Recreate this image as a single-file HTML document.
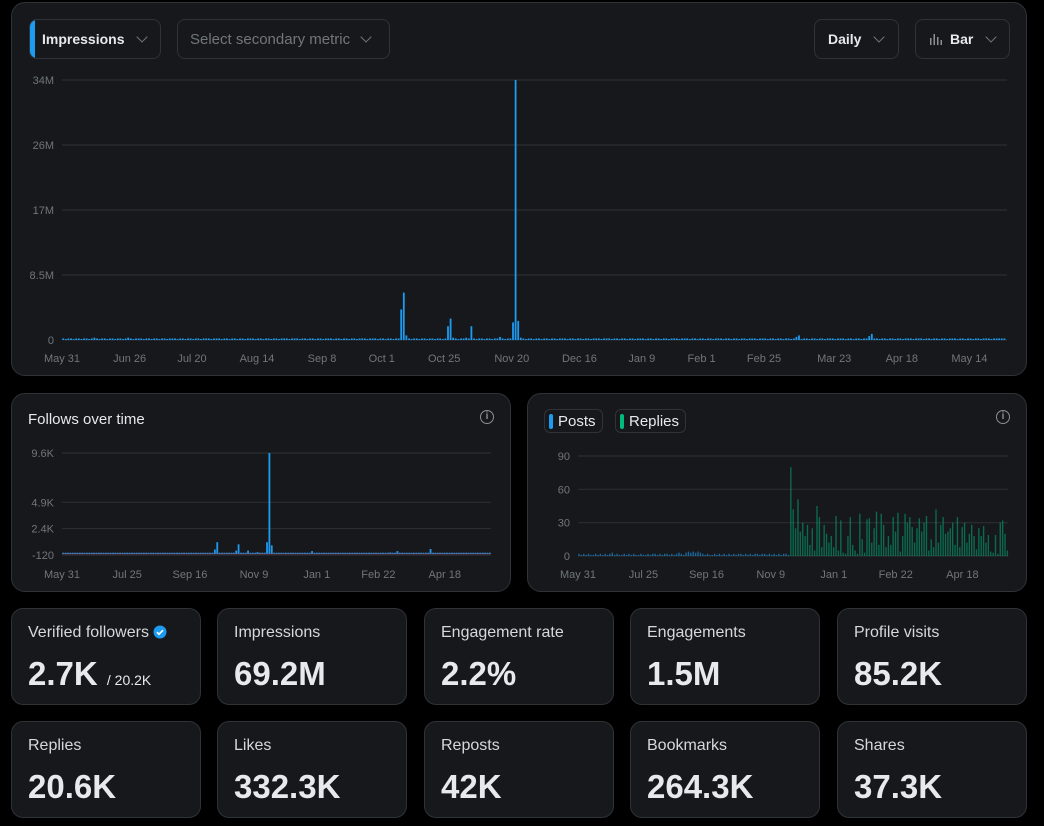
<!DOCTYPE html>
<html><head><meta charset="utf-8">
<style>
*{box-sizing:border-box;margin:0;padding:0}
body{width:1044px;height:826px;background:#000;font-family:"Liberation Sans",sans-serif;position:relative;overflow:hidden;color:#e7e9ea}
.card{position:absolute;background:#16181c;border:1px solid #2f3336;border-radius:14px}
.btn{position:absolute;border:1px solid #2f3336;border-radius:8px;height:40px;display:flex;align-items:center;font-size:14px;font-weight:bold;color:#e7e9ea}
.chev{display:inline-block;width:8px;height:8px;border-right:1.5px solid #71767b;border-bottom:1.5px solid #71767b;transform:rotate(45deg);margin-top:-5px}
.stat{position:absolute;width:190px;height:97px;background:#16181c;border:1px solid #2f3336;border-radius:12px}
.stat .lab{position:absolute;left:16px;top:15px;font-size:16px;color:#d6d9db}
.stat .val{position:absolute;left:16px;top:46px;font-size:33px;font-weight:bold;color:#e7e9ea}
.info{position:absolute;width:14px;height:14px;border:1.5px solid #8b9096;border-radius:50%;font-size:10px;color:#8b9096;text-align:center;line-height:11px;font-weight:bold}
.leg{position:absolute;height:24px;border:1px solid #2f3336;border-radius:6px;font-size:15px;color:#e7e9ea;display:flex;align-items:center;padding:0 6px 0 4px}
.leg i{display:inline-block;width:4px;height:15px;border-radius:2px;margin-right:5px}
svg text{font-family:"Liberation Sans",sans-serif;font-size:11px;fill:#71767b}
</style></head><body>
<div class="card" style="left:11px;top:2px;width:1016px;height:374px"></div>
<div class="btn" style="left:29px;top:19px;width:132px;overflow:hidden;padding-left:12px"><span style="position:absolute;left:0;top:0;width:5px;height:40px;background:#1d9bf0"></span>Impressions<span class="chev" style="margin-left:14px"></span></div>
<div class="btn" style="left:177px;top:19px;width:213px;padding-left:12px;color:#71767b;font-weight:normal;font-size:15px">Select secondary metric<span class="chev" style="margin-left:12px"></span></div>
<div class="btn" style="left:814px;top:19px;width:85px;padding-left:13px">Daily<span class="chev" style="margin-left:14px"></span></div>
<div class="btn" style="left:915px;top:19px;width:95px;padding-left:14px"><svg width="12" height="12" style="margin-right:8px"><rect x="0" y="5" width="1.5" height="7" fill="#8b9096"/><rect x="3.5" y="1" width="1.5" height="11" fill="#8b9096"/><rect x="7" y="4" width="1.5" height="8" fill="#8b9096"/><rect x="10.5" y="7" width="1.5" height="5" fill="#8b9096"/></svg>Bar<span class="chev" style="margin-left:14px"></span></div>

<div class="card" style="left:11px;top:393px;width:500px;height:199px"></div>
<div style="position:absolute;left:28px;top:411px;font-size:15px;color:#e7e9ea">Follows over time</div>
<div class="info" style="left:480px;top:410px">i</div>

<div class="card" style="left:527px;top:393px;width:500px;height:199px"></div>
<div class="leg" style="left:544px;top:409px"><i style="background:#1d9bf0"></i>Posts</div>
<div class="leg" style="left:615px;top:409px"><i style="background:#00ba7c"></i>Replies</div>
<div class="info" style="left:996px;top:410px">i</div>

<svg id="charts" width="1044" height="826" style="position:absolute;left:0;top:0"></svg>

<div class="stat" style="left:11px;top:608px"><div class="lab">Verified followers <svg width="14" height="14" style="vertical-align:-2px"><circle cx="7" cy="7" r="6.5" fill="#1d9bf0"/><path d="M4 7.2l2 2 4-4" stroke="#fff" stroke-width="1.6" fill="none"/></svg></div><div class="val">2.7K <span style="font-size:14px;font-weight:normal">/ 20.2K</span></div></div>
<div class="stat" style="left:217px;top:608px"><div class="lab">Impressions</div><div class="val">69.2M</div></div>
<div class="stat" style="left:424px;top:608px"><div class="lab">Engagement rate</div><div class="val">2.2%</div></div>
<div class="stat" style="left:630px;top:608px"><div class="lab">Engagements</div><div class="val">1.5M</div></div>
<div class="stat" style="left:837px;top:608px"><div class="lab">Profile visits</div><div class="val">85.2K</div></div>
<div class="stat" style="left:11px;top:721px"><div class="lab">Replies</div><div class="val">20.6K</div></div>
<div class="stat" style="left:217px;top:721px"><div class="lab">Likes</div><div class="val">332.3K</div></div>
<div class="stat" style="left:424px;top:721px"><div class="lab">Reposts</div><div class="val">42K</div></div>
<div class="stat" style="left:630px;top:721px"><div class="lab">Bookmarks</div><div class="val">264.3K</div></div>
<div class="stat" style="left:837px;top:721px"><div class="lab">Shares</div><div class="val">37.3K</div></div>

<script>
// ---- Impressions (millions, daily from May 31) ----
const impressions = [
.2,.1,.2,.2,.1,.2,.2,.1,.2,.2,.1,.2,.3,.2,.1,.2,.2,.1,.2,.2,.1,.2,.2,.1,.2,.3,.2,.1,.2,.2,
.2,.1,.2,.2,.1,.2,.2,.1,.2,.2,.1,.2,.2,.2,.1,.2,.2,.1,.2,.2,.1,.2,.2,.1,.2,.2,.2,.1,.2,.2,
.2,.1,.2,.2,.1,.2,.2,.1,.2,.2,.1,.2,.2,.2,.1,.2,.2,.1,.2,.2,.1,.2,.2,.1,.2,.2,.2,.1,.2,.2,
.2,.1,.2,.2,.1,.2,.2,.1,.2,.2,.1,.2,.2,.2,.1,.2,.2,.1,.2,.2,.1,.2,.2,.1,.2,.2,.2,.1,.2,.2,
.2,.1,.2,.2,.1,.2,.2,.1,.2,.2,4.0,6.2,.6,.2,.1,.2,.2,.1,.2,.2,.1,.2,.2,.1,.2,.2,.1,.2,1.8,2.8,
.3,.2,.1,.2,.2,.3,.2,1.8,.2,.1,.2,.2,.1,.2,.2,.1,.2,.2,.4,.2,.1,.2,.2,2.3,34,2.5,.3,.2,.1,.2,
.2,.1,.2,.2,.1,.2,.2,.1,.2,.2,.1,.2,.2,.2,.1,.2,.2,.1,.2,.2,.1,.2,.2,.1,.2,.2,.2,.1,.2,.2,
.2,.1,.2,.2,.1,.2,.2,.1,.2,.2,.1,.2,.2,.2,.1,.2,.2,.1,.2,.2,.1,.2,.2,.1,.2,.2,.2,.1,.2,.2,
.2,.1,.2,.2,.1,.2,.2,.1,.2,.2,.1,.2,.2,.2,.1,.2,.2,.1,.2,.2,.1,.2,.2,.1,.2,.2,.2,.1,.2,.2,
.2,.1,.2,.2,.1,.2,.2,.1,.2,.2,.1,.2,.4,.6,.1,.2,.2,.1,.2,.2,.1,.2,.2,.1,.2,.2,.2,.1,.2,.2,
.2,.1,.2,.2,.1,.2,.2,.1,.2,.2,.5,.8,.2,.2,.1,.2,.2,.1,.2,.2,.1,.2,.2,.1,.2,.2,.2,.1,.2,.2,
.2,.1,.2,.2,.1,.2,.2,.1,.2,.2,.1,.2,.2,.2,.1,.2,.2,.1,.2,.2,.1,.2,.2,.1,.2,.2,.2,.1,.2,.2,.2,.2,.2];
const mainYTicks = [0, 8.5, 17, 25.5, 34];
const mainYLabels = ["0", "8.5M", "17M", "26M", "34M"];
const mainTickDays = [0,26,50,75,100,123,147,173,199,223,246,270,297,323,349];
const mainTickLabels = ["May 31","Jun 26","Jul 20","Aug 14","Sep 8","Oct 1","Oct 25","Nov 20","Dec 16","Jan 9","Feb 1","Feb 25","Mar 23","Apr 18","May 14"];

// ---- Follows (2-day bins) ----
const follows = [
30,30,30,30,30,30,30,30,30,30,30,30,30,30,30,30,30,30,30,30,
30,30,30,30,30,30,30,30,30,30,30,30,30,30,30,30,30,30,30,30,
30,30,30,30,30,30,30,30,30,30,30,30,30,30,30,30,30,30,30,30,
30,30,30,30,400,1100,60,30,30,30,30,30,30,300,900,60,30,30,300,30,
30,30,150,30,30,30,1100,9600,800,80,30,30,30,30,30,30,30,30,30,30,
30,30,30,30,60,250,30,30,30,30,30,30,30,30,30,30,30,30,30,30,
30,30,30,30,30,30,30,30,30,30,30,30,30,30,30,30,30,30,120,30,
30,250,30,30,30,30,30,30,30,30,30,30,30,30,30,450,30,30,30,30,
30,30,30,30,30,30,30,30,30,30,30,30,30,30,30,30,30,30,30,30,30];
const followYTicks = [-120, 2400, 4900, 9600];
const followYLabels = ["-120","2.4K","4.9K","9.6K"];
const smallTickDays = [0,55,108,162,215,267,323];
const smallTickLabels = ["May 31","Jul 25","Sep 16","Nov 9","Jan 1","Feb 22","Apr 18"];

// ---- Posts / Replies (2-day bins) ----
const posts = [
2,1,2,1,2,1,1,2,1,2,1,2,1,2,3,1,2,1,1,2,1,2,1,2,1,1,2,1,1,2,
1,2,2,1,2,1,2,2,1,2,1,2,3,2,1,3,4,3,4,3,4,3,2,1,2,1,1,2,1,2,
1,2,1,2,1,2,1,2,2,1,2,1,2,1,2,2,1,2,2,1,2,1,2,1,2,1,2,2,1,
0,0,0,0,0,0,0,0,0,0,0,0,0,0,0,0,0,0,0,0,0,0,0,0,0,0,0,0,0,0,0,0,0,0,0,0,0,0,0,0,0,0,0,0,0,0,
0,0,0,0,0,0,0,0,0,0,0,0,0,0,0,0,0,0,0,0,0,0,0,0,0,0,0,0,0,0,0,0,0,0,0,0,0,0,0,0,0,0,0,0,0,0];
const replies = [
0,0,0,0,0,0,0,0,0,0,0,0,0,0,0,0,0,0,0,0,0,0,0,0,0,0,0,0,0,0,
0,0,0,0,0,0,0,0,0,0,0,0,0,0,0,0,0,0,0,0,0,0,0,0,0,0,0,0,0,0,
0,0,0,0,0,0,0,0,0,0,0,0,0,0,0,0,0,0,0,0,0,0,0,0,0,0,0,0,0,
80,42,25,51,22,30,18,28,10,25,5,45,35,8,28,20,12,18,8,36,
5,32,3,2,18,35,10,5,2,38,15,3,33,34,12,25,40,10,38,28,
8,18,10,35,22,39,4,18,38,30,35,26,12,25,34,22,30,36,5,15,
8,42,12,28,35,20,22,25,30,10,35,8,26,30,12,20,28,18,6,25,
18,27,12,19,4,3,19,2,30,32,20,5];
const postYTicks = [0,30,60,90];
const postYLabels = ["0","30","60","90"];

const svg = document.getElementById('charts');
const NS = 'http://www.w3.org/2000/svg';
function mk(tag, attrs, parent){const e=document.createElementNS(NS,tag);for(const k in attrs)e.setAttribute(k,attrs[k]);(parent||svg).appendChild(e);return e;}

function drawChart(cfg){
  const g = mk('g',{});
  
  
  const y = v => cfg.y1 - (v - cfg.min)/(cfg.max - cfg.min)*(cfg.y1 - cfg.y0);
  const xDay = d => cfg.x0 + d*cfg.dayW;
  cfg.yTicks.forEach((t,i)=>{
    const gl = mk('line',{x1:cfg.x0,x2:cfg.x1,y1:y(t),y2:y(t),stroke:'#2a2d31','stroke-width':1.2},g);
    
    
    const tx = mk('text',{x:cfg.x0-8,y:y(t)+4,'text-anchor':'end'},g);
    tx.textContent = cfg.yLabels[i];
    
    
  });
  cfg.xDays.forEach((d,i)=>{
    const tx = mk('text',{x:xDay(d)+cfg.labelShift,y:cfg.labelY,'text-anchor':'middle'},g);
    tx.textContent = cfg.xLabels[i];
    
    
  });
  if(cfg.zeroLine){
    const zl = mk('line',{x1:cfg.x0,x2:cfg.x1,y1:y(0),y2:y(0),stroke:'#c0405a','stroke-width':1,opacity:0.7},g);
    
    
  }
  cfg.series.forEach(s=>{
    s.data.forEach((v,i)=>{
      if(v<=0) return;
      const base = y(Math.max(cfg.min,0));
      const top = y(v);
      const r = mk('rect',{x:cfg.x0 + i*cfg.binW + 0.3, y:Math.min(top,base-1), width:cfg.barW, height:Math.max(1,base-top), fill:s.color, opacity:s.op},g);
      
      
    });
  });
}

drawChart({name:'impressions-chart',x0:62,x1:1007,y0:80,y1:340,min:0,max:34,dayW:2.6,binW:2.6,barW:1.8,
  yTicks:mainYTicks,yLabels:mainYLabels,xDays:mainTickDays,xLabels:mainTickLabels,labelY:362,labelShift:0,
  series:[{name:'impressions',data:impressions,color:'#1d9bf0',op:1}]});

drawChart({name:'follows-chart',x0:62,x1:491,y0:453,y1:555,min:-120,max:9600,dayW:1.185,binW:2.37,barW:1.8,
  yTicks:followYTicks,yLabels:followYLabels,xDays:smallTickDays,xLabels:smallTickLabels,labelY:578,labelShift:0,zeroLine:true,
  series:[{name:'follows',data:follows,color:'#1d9bf0',op:1}]});

drawChart({name:'posts-replies-chart',x0:578,x1:1008,y0:456,y1:556,min:0,max:90,dayW:1.19,binW:2.38,barW:1.4,
  yTicks:postYTicks,yLabels:postYLabels,xDays:smallTickDays,xLabels:smallTickLabels,labelY:578,labelShift:0,
  series:[{name:'posts',data:posts,color:'#1d9bf0',op:0.6},{name:'replies',data:replies,color:'#00ba7c',op:0.5}]});
</script>
</body></html>
